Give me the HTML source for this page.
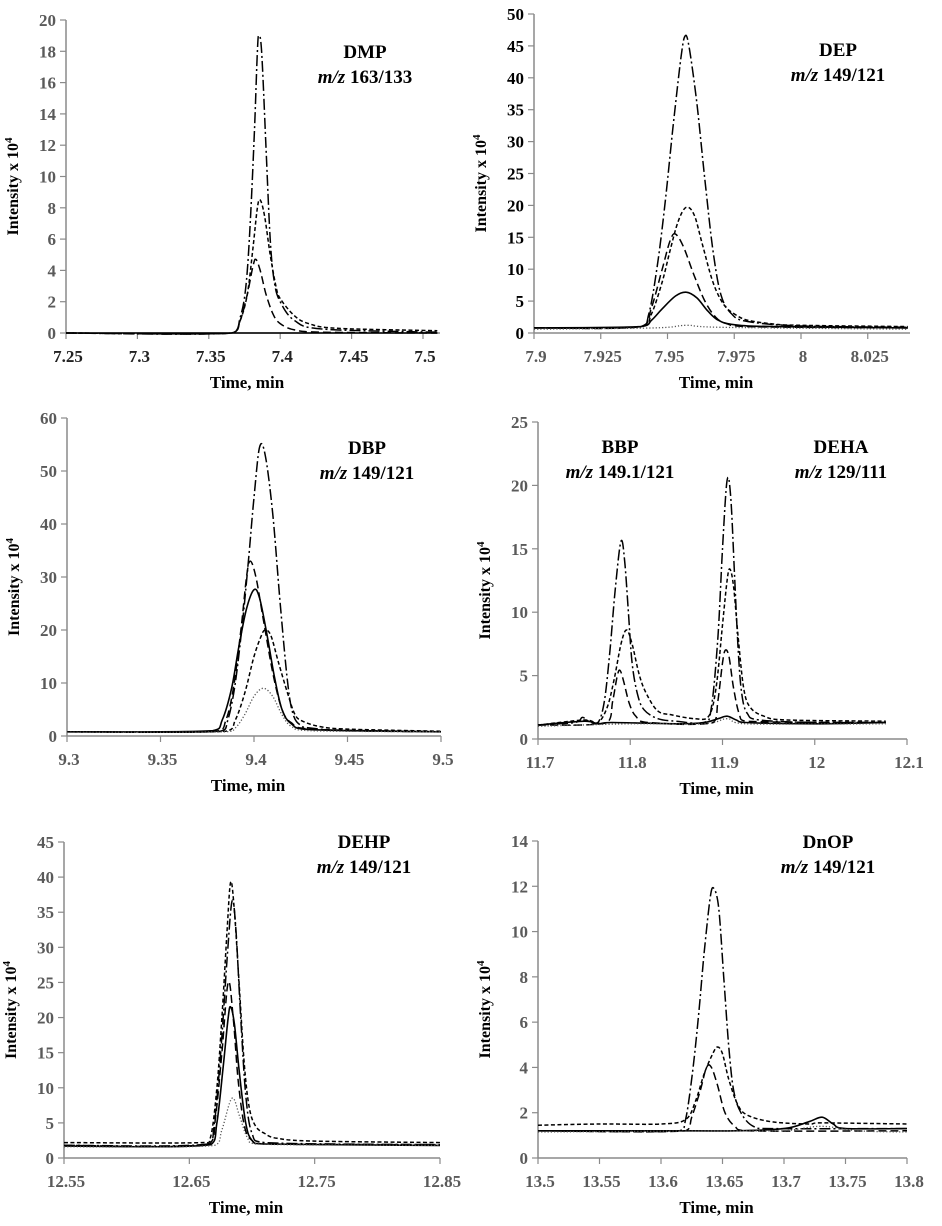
<!DOCTYPE html>
<html><head><meta charset="utf-8"><style>
html,body{margin:0;padding:0;background:#fff;}
svg{display:block;}
svg text{font-family:"Liberation Serif",serif;font-weight:bold;}
</style></head><body>
<svg id="fig" width="942" height="1226" viewBox="0 0 942 1226" xmlns="http://www.w3.org/2000/svg"></svg>
<script>
// ---- Data (time, intensity x10^4) ----
const dmpDashDot=[[7.25,0],[7.366,0],[7.372,1],[7.376,3],[7.379,7],[7.382,13],[7.384,18],[7.385,19],[7.387,18],[7.39,12],[7.393,6],[7.396,3.2],[7.4,2],[7.41,0.8],[7.43,0.25],[7.51,0.05]];
const dmpShortDash=[[7.25,0],[7.366,0],[7.372,0.8],[7.377,2.5],[7.381,5.5],[7.384,8],[7.386,8.5],[7.389,7.5],[7.393,5],[7.397,3],[7.4,2.2],[7.41,1.1],[7.42,0.6],[7.44,0.3],[7.51,0.15]];
const dmpLongDash=[[7.25,0],[7.366,0],[7.372,0.8],[7.377,2.5],[7.381,4.3],[7.383,4.7],[7.386,4],[7.39,2.5],[7.395,1.2],[7.4,0.6],[7.41,0.2],[7.43,0.05],[7.51,0]];
const dmpSolid=[[7.25,0],[7.51,0]];
const depDashDot=[[7.9,0.8],[7.94,1],[7.943,3],[7.946,10],[7.949,20],[7.952,32],[7.955,43],[7.9565,46.5],[7.958,45],[7.961,36],[7.964,24],[7.967,13],[7.97,6],[7.974,3],[7.98,1.8],[8.0,1.1],[8.04,0.9]];
const depShortDash=[[7.9,0.8],[7.94,1],[7.944,3],[7.948,8],[7.951,13],[7.954,17.5],[7.957,19.7],[7.96,18.5],[7.963,14],[7.967,8],[7.971,4.5],[7.975,3],[7.98,2],[7.99,1.4],[8.0,1.2],[8.04,1]];
const depLongDash=[[7.9,0.8],[7.94,1],[7.944,4],[7.948,10],[7.951,14.5],[7.953,15.5],[7.956,13.5],[7.96,9],[7.964,5],[7.968,2.5],[7.972,1.5],[7.98,1],[8.04,0.8]];
const depSolid=[[7.9,0.8],[7.94,1],[7.944,2],[7.948,3.8],[7.953,5.8],[7.957,6.4],[7.961,5.5],[7.965,3.5],[7.969,2],[7.975,1.3],[7.99,1],[8.04,0.8]];
const depDotted=[[7.9,0.6],[7.945,0.8],[7.957,1.2],[7.97,0.9],[8.04,0.6]];
const dbpDashDot=[[9.3,0.8],[9.382,0.9],[9.386,3],[9.39,10],[9.394,22],[9.397,33],[9.4,45],[9.403,54.5],[9.406,53],[9.41,42],[9.414,25],[9.418,10],[9.421,4],[9.425,2],[9.43,1.5],[9.45,1],[9.5,0.8]];
const dbpLongDash=[[9.3,0.8],[9.38,0.9],[9.385,3],[9.389,9],[9.393,20],[9.396,30],[9.398,33],[9.401,30],[9.405,22],[9.41,12],[9.415,5],[9.42,2.5],[9.43,1.3],[9.5,0.8]];
const dbpShortDash=[[9.3,0.8],[9.385,0.9],[9.39,3],[9.395,8],[9.4,15],[9.404,19],[9.406,20],[9.409,19],[9.413,14],[9.418,8],[9.422,4],[9.426,2.8],[9.435,1.8],[9.45,1.3],[9.5,0.9]];
const dbpSolid=[[9.3,0.8],[9.378,1],[9.383,3],[9.388,9],[9.392,17],[9.396,24],[9.4,27.6],[9.403,26],[9.407,19],[9.411,11],[9.415,5],[9.42,2.3],[9.43,1.2],[9.5,0.8]];
const dbpDotted=[[9.3,0.7],[9.385,0.8],[9.39,1.5],[9.395,4],[9.4,7.5],[9.405,9],[9.41,7.5],[9.415,4],[9.42,1.8],[9.43,1],[9.5,0.8]];
const bbpDashDot=[[11.7,1.1],[11.74,1.3],[11.748,1.7],[11.755,1.4],[11.765,1.3],[11.772,3],[11.778,7],[11.784,12],[11.79,15.6],[11.794,14],[11.798,10],[11.802,6],[11.808,3.5],[11.815,2.3],[11.83,1.6],[11.85,1.4],[11.88,1.3],[11.888,2.5],[11.895,8],[11.9,15],[11.905,20.4],[11.909,19],[11.913,13],[11.917,7],[11.921,3.5],[11.927,2],[11.94,1.5],[12,1.3],[12.077,1.3]];
const bbpShortDash=[[11.7,1.1],[11.75,1.5],[11.765,1.3],[11.775,2.5],[11.782,4.5],[11.79,7.5],[11.796,8.6],[11.802,7.5],[11.81,5],[11.818,3.5],[11.83,2.2],[11.845,1.9],[11.87,1.6],[11.885,1.8],[11.893,4],[11.9,9],[11.905,12.5],[11.908,13.4],[11.912,12],[11.917,8],[11.923,4],[11.93,2.5],[11.945,1.8],[11.97,1.5],[12.077,1.4]];
const bbpLongDash=[[11.7,1.1],[11.775,1.3],[11.781,3],[11.786,5],[11.789,5.4],[11.793,4.5],[11.799,2.8],[11.806,1.8],[11.82,1.3],[11.89,1.3],[11.895,3],[11.9,6],[11.903,7],[11.907,6.5],[11.912,4],[11.918,2],[11.925,1.4],[12.077,1.3]];
const bbpSolid=[[11.7,1.1],[11.75,1.4],[11.765,1.2],[11.78,1.3],[11.85,1.2],[11.88,1.3],[11.895,1.6],[11.905,1.8],[11.915,1.5],[11.925,1.3],[12.0,1.2],[12.077,1.3]];
const bbpDotted=[[11.7,1.0],[11.8,1.2],[11.88,1.2],[11.905,1.6],[11.925,1.2],[12.077,1.2]];
const dehpShortDash=[[12.55,2.2],[12.66,2.2],[12.667,3],[12.672,10],[12.676,20],[12.68,32],[12.683,39.3],[12.686,35],[12.69,24],[12.694,13],[12.698,7],[12.703,4.5],[12.71,3.5],[12.72,2.8],[12.75,2.4],[12.85,2.2]];
const dehpDashDot=[[12.55,1.8],[12.665,2],[12.67,5],[12.675,15],[12.68,28],[12.684,36.5],[12.687,33],[12.691,20],[12.695,9],[12.7,3.5],[12.71,2.2],[12.85,1.9]];
const dehpLongDash=[[12.55,1.8],[12.666,2],[12.671,6],[12.676,15],[12.681,25],[12.685,20],[12.689,11],[12.694,4.5],[12.7,2.5],[12.71,2],[12.85,1.9]];
const dehpSolid=[[12.55,1.7],[12.667,1.9],[12.672,5],[12.677,13],[12.681,20],[12.683,21.5],[12.686,19],[12.69,12],[12.695,5],[12.7,2.5],[12.71,2],[12.85,1.8]];
const dehpDotted=[[12.55,1.6],[12.67,1.8],[12.676,4],[12.684,8.5],[12.69,6],[12.696,3],[12.703,2],[12.85,1.8]];
const dnopDashDot=[[13.5,1.2],[13.615,1.2],[13.62,1.7],[13.625,3.5],[13.63,6],[13.635,9],[13.64,11.5],[13.643,11.9],[13.647,11],[13.651,8],[13.655,5],[13.659,3],[13.665,2],[13.675,1.4],[13.69,1.3],[13.8,1.3]];
const dnopShortDash=[[13.5,1.45],[13.55,1.5],[13.6,1.5],[13.62,1.7],[13.628,2.5],[13.635,3.7],[13.642,4.6],[13.646,4.9],[13.65,4.6],[13.655,3.5],[13.662,2.4],[13.67,1.9],[13.69,1.6],[13.72,1.5],[13.73,1.55],[13.8,1.5]];
const dnopLongDash=[[13.5,1.2],[13.62,1.2],[13.625,1.8],[13.632,3],[13.637,4],[13.641,4],[13.646,3.2],[13.652,2],[13.66,1.4],[13.67,1.2],[13.8,1.2]];
const dnopSolid=[[13.5,1.2],[13.62,1.2],[13.66,1.2],[13.7,1.3],[13.72,1.6],[13.731,1.8],[13.74,1.5],[13.75,1.3],[13.8,1.3]];
const dnopDotted=[[13.5,1.15],[13.66,1.2],[13.7,1.2],[13.73,1.4],[13.76,1.2],[13.8,1.15]];

// ---- Tick labels ----
const xt1=["7.25","7.3","7.35","7.4","7.45","7.5"], yt1=[0,2,4,6,8,10,12,14,16,18,20];
const xt2=["7.9","7.925","7.95","7.975","8","8.025"], yt2=[0,5,10,15,20,25,30,35,40,45,50];
const xt3=["9.3","9.35","9.4","9.45","9.5"], yt3=[0,10,20,30,40,50,60];
const xt4=["11.7","11.8","11.9","12","12.1"], yt4=[0,5,10,15,20,25];
const xt5=["12.55","12.65","12.75","12.85"], yt5=[0,5,10,15,20,25,30,35,40,45];
const xt6=["13.5","13.55","13.6","13.65","13.7","13.75","13.8"], yt6=[0,2,4,6,8,10,12,14];

const STY={
 dashdot:{dash:"11 3 2 3",w:1.5,c:"#000"},
 short:{dash:"4 2.5",w:1.5,c:"#000"},
 long:{dash:"8 4",w:1.5,c:"#000"},
 solid:{dash:"",w:1.6,c:"#000"},
 dotted:{dash:"1.2 2",w:1.3,c:"#555"}
};
const G="#5a5a5a";
const FF='"Liberation Serif", serif';
const panels=[
 {name:"dmp",ax:66,ay0:333,ay1:20,xmin:7.25,xmax:7.5,xr:440,xAt:423,ymax:20,xt:xt1,yt:yt1,ylc:G,xlc:"#222",
  series:[["dashdot",dmpDashDot],["short",dmpShortDash],["long",dmpLongDash],["solid",dmpSolid]],
  notes:[[365,"DMP","163/133"]],ny:52},
 {name:"dep",ax:534,ay0:333,ay1:14,xmin:7.9,xmax:8.0,xr:910,xAt:801,ymax:50,xt:xt2,yt:yt2,ylc:"#000",xlc:G,
  series:[["dashdot",depDashDot],["short",depShortDash],["long",depLongDash],["solid",depSolid],["dotted",depDotted]],
  notes:[[838,"DEP","149/121"]],ny:50},
 {name:"dbp",ax:67,ay0:736,ay1:418,xmin:9.3,xmax:9.5,xr:441,xAt:441,ymax:60,xt:xt3,yt:yt3,ylc:G,xlc:G,
  series:[["dashdot",dbpDashDot],["short",dbpShortDash],["long",dbpLongDash],["solid",dbpSolid],["dotted",dbpDotted]],
  notes:[[367,"DBP","149/121"]],ny:448},
 {name:"bbp-deha",ax:538,ay0:739,ay1:422,xmin:11.7,xmax:12.1,xr:907,xAt:907,ymax:25,xt:xt4,yt:yt4,ylc:G,xlc:G,
  series:[["dashdot",bbpDashDot],["short",bbpShortDash],["long",bbpLongDash],["solid",bbpSolid],["dotted",bbpDotted]],
  notes:[[620,"BBP","149.1/121"],[841,"DEHA","129/111"]],ny:447},
 {name:"dehp",ax:64,ay0:1158,ay1:842,xmin:12.55,xmax:12.85,xr:440,xAt:440,ymax:45,xt:xt5,yt:yt5,ylc:G,xlc:G,
  series:[["dashdot",dehpDashDot],["short",dehpShortDash],["long",dehpLongDash],["solid",dehpSolid],["dotted",dehpDotted]],
  notes:[[364,"DEHP","149/121"]],ny:842},
 {name:"dnop",ax:538,ay0:1158,ay1:841,xmin:13.5,xmax:13.8,xr:907,xAt:907,ymax:14,xt:xt6,yt:yt6,ylc:G,xlc:G,
  series:[["dashdot",dnopDashDot],["short",dnopShortDash],["long",dnopLongDash],["solid",dnopSolid],["dotted",dnopDotted]],
  notes:[[828,"DnOP","149/121"]],ny:842}
];
const NS="http://www.w3.org/2000/svg";
const svg=document.getElementById('fig');
function mk(tag,attrs,parent){const e=document.createElementNS(NS,tag);for(const k in attrs)e.setAttribute(k,attrs[k]);(parent||svg).appendChild(e);return e;}
function txt(attrs,parent){attrs["font-family"]=FF;attrs["font-weight"]="bold";return mk('text',attrs,parent);}
// smooth monotone-ish Catmull-Rom path through pixel points
function smooth(P){
 let d='M'+P[0][0].toFixed(1)+','+P[0][1].toFixed(1);
 for(let i=0;i<P.length-1;i++){
  const p0=P[i-1]||P[i],p1=P[i],p2=P[i+1],p3=P[i+2]||P[i+1];
  const k=1/6;
  let c1=[p1[0]+(p2[0]-p0[0])*k,p1[1]+(p2[1]-p0[1])*k];
  let c2=[p2[0]-(p3[0]-p1[0])*k,p2[1]-(p3[1]-p1[1])*k];
  c1[0]=Math.min(Math.max(c1[0],p1[0]),p2[0]);c2[0]=Math.min(Math.max(c2[0],p1[0]),p2[0]);
  d+=' C'+c1[0].toFixed(1)+','+c1[1].toFixed(1)+' '+c2[0].toFixed(1)+','+c2[1].toFixed(1)+' '+p2[0].toFixed(1)+','+p2[1].toFixed(1);
 }
 return d;
}
panels.forEach(p=>{
 const g=mk('g',{});
 
 
 const sx=t=>p.ax+(t-p.xmin)/(p.xmax-p.xmin)*(p.xAt-p.ax);
 const sy=v=>p.ay0-v/p.ymax*(p.ay0-p.ay1);
 const ya=mk('line',{x1:p.ax,y1:p.ay1,x2:p.ax,y2:p.ay0,stroke:"#8a8a8a","stroke-width":1.5},g);
 
 
 const xa=mk('line',{x1:p.ax,y1:p.ay0,x2:p.xr,y2:p.ay0,stroke:"#8a8a8a","stroke-width":1.5},g);
 
 
 p.yt.forEach(v=>{
  const y=sy(v);
  mk('line',{x1:p.ax-6,y1:y,x2:p.ax,y2:y,stroke:"#8a8a8a","stroke-width":1.2},g);
  const t=txt({x:p.ax-10,y:y+6,"text-anchor":"end","font-size":17,fill:p.ylc},g);
  t.textContent=v;
  
  
 });
 p.xt.forEach(s=>{
  const x=sx(parseFloat(s));
  mk('line',{x1:x,y1:p.ay0,x2:x,y2:p.ay0+6,stroke:"#8a8a8a","stroke-width":1.2},g);
  const t=txt({x:x+2,y:p.ay0+29,"text-anchor":"middle","font-size":17,fill:p.xlc},g);
  t.textContent=s;
  
  
 });
 const xtitle=txt({x:(p.ax+p.xr)/2-6,y:p.ay0+55,"text-anchor":"middle","font-size":17,fill:"#000"},g);
 xtitle.textContent="Time, min";
 
 
 const ytx=p.ax-48, yty=(p.ay0+p.ay1)/2+10;
 const ytitle=txt({x:ytx,y:yty,"text-anchor":"middle","font-size":16,fill:"#000",transform:`rotate(-90 ${ytx} ${yty})`},g);
 ytitle.innerHTML='Intensity x 10<tspan dy="-6" font-size="11">4</tspan>';
 
 
 p.series.forEach(([st,data])=>{
  const s=STY[st];
  const P=data.map(pt=>[sx(pt[0]),sy(pt[1])]);
  const path=mk('path',{d:smooth(P),fill:"none",stroke:s.c,"stroke-width":s.w,"stroke-dasharray":s.dash,"stroke-linejoin":"round"},g);
  
  
 });
 p.notes.forEach(([cx,name,mz])=>{
  const t1=txt({x:cx,y:p.ny+6,"text-anchor":"middle","font-size":19,fill:"#000"},g);
  t1.textContent=name;
  
  
  const t2=txt({x:cx,y:p.ny+31,"text-anchor":"middle","font-size":19,fill:"#000"},g);
  t2.innerHTML='<tspan font-style="italic">m/z</tspan> '+mz;
  
  
 });
});
</script>
</body></html>
